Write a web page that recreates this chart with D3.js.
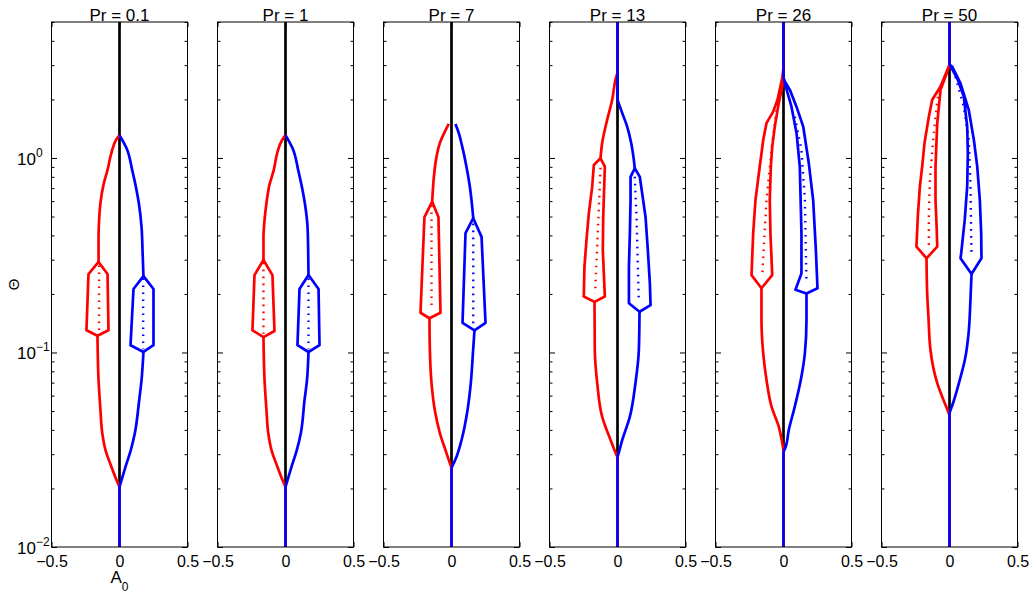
<!DOCTYPE html>
<html><head><meta charset="utf-8">
<script src="https://cdn.jsdelivr.net/npm/d3@7"></script>
<style>
body{margin:0;background:#fff}
svg{display:block}
text{font-family:"Liberation Sans",Arial,Helvetica,sans-serif;fill:#000}
</style>
</head><body>
<svg id="chart" width="1032" height="594"></svg>
<script>
// ---------------- DATA (A0, Theta) ----------------
const prLabels = ["Pr = 0.1", "Pr = 1", "Pr = 7", "Pr = 13", "Pr = 26", "Pr = 50"];
const xTicks = [-0.5, 0, 0.5];
const yMajor = [0.01, 0.1, 1];
const yMajorExp = ["\u22122", "\u22121", "0"];
const thetaDomain = [0.01, 5];

// Theta where the red/blue branches leave A0 = 0 (lower bifurcation)
const lowerMerge = [0.0204, 0.0204, 0.0255, 0.0291, 0.0315, 0.0477];
const lowerMergeBlue = [0.0204, 0.0204, 0.0255, 0.0291, 0.0309, 0.049];
// whether branches return to A0 = 0 at large Theta
const rejoins = [false, false, false, true, true, true];

// red branch: lower curve (merge -> bubble bottom), upper curve (bubble top -> end)
const redLower = [
  [[0,0.0204],[-0.022,0.0221],[-0.059,0.0258],[-0.103,0.0315],[-0.127,0.0386],[-0.140,0.0506],[-0.154,0.072],[-0.162,0.122]],
  [[0,0.0204],[-0.022,0.0221],[-0.059,0.0258],[-0.103,0.0315],[-0.127,0.0386],[-0.140,0.0506],[-0.154,0.072],[-0.162,0.120]],
  [[0,0.0255],[-0.037,0.0304],[-0.086,0.0386],[-0.123,0.0506],[-0.147,0.0697],[-0.159,0.103],[-0.162,0.150]],
  [[0,0.0291],[-0.012,0.0303],[-0.051,0.0355],[-0.113,0.0468],[-0.149,0.0695],[-0.167,0.103],[-0.169,0.182]],
  [[0,0.0315],[-0.010,0.0345],[-0.035,0.0416],[-0.088,0.0527],[-0.125,0.0722],[-0.149,0.099],[-0.162,0.147],[-0.162,0.214]],
  [[0,0.0477],[-0.025,0.0527],[-0.090,0.0695],[-0.140,0.103],[-0.155,0.153],[-0.164,0.2],[-0.169,0.305]]
];
const redUpper = [
  [[-0.154,0.292],[-0.154,0.393],[-0.150,0.48],[-0.140,0.587],[-0.118,0.727],[-0.088,0.868],[-0.060,1.06],[-0.025,1.24],[0,1.31]],
  [[-0.162,0.299],[-0.162,0.393],[-0.154,0.48],[-0.140,0.587],[-0.118,0.727],[-0.086,0.868],[-0.061,1.06],[-0.025,1.237],[0,1.31]],
  [[-0.142,0.596],[-0.137,0.685],[-0.127,0.834],[-0.110,1.016],[-0.086,1.19],[-0.049,1.365],[-0.020,1.496]],
  [[-0.125,0.996],[-0.113,1.19],[-0.076,1.57],[-0.039,1.99],[-0.015,2.52],[0,2.75]],
  [[-0.007,2.62],[0,2.95]],
  [[-0.002,3.0],[0,3.1]]
];
// red oscillation bubble edges (between bubble top and bubble bottom)
const redBubbleLeft = [
  [[-0.228,0.253],[-0.243,0.130]],
  [[-0.228,0.250],[-0.243,0.130]],
  [[-0.199,0.497],[-0.228,0.160]],
  [[-0.174,0.92],[-0.186,0.712],[-0.211,0.519],[-0.228,0.379],[-0.243,0.276],[-0.248,0.194]],
  [[-0.044,1.99],[-0.076,1.73],[-0.125,1.51],[-0.149,1.24],[-0.181,0.834],[-0.206,0.608],[-0.223,0.41],[-0.235,0.25]],
  [[-0.066,2.33],[-0.127,1.99],[-0.152,1.63],[-0.184,1.19],[-0.201,0.902],[-0.218,0.712],[-0.233,0.499],[-0.243,0.350]]
];
const redBubbleRight = [
  [[-0.088,0.253],[-0.081,0.130]],
  [[-0.096,0.250],[-0.081,0.129]],
  [[-0.096,0.497],[-0.081,0.160]],
  [[-0.093,0.902],[-0.105,0.499],[-0.108,0.336],[-0.093,0.194]],
  [[-0.007,2.37],[-0.035,1.91],[-0.064,1.45],[-0.083,1.143],[-0.093,0.903],[-0.101,0.608],[-0.096,0.41],[-0.083,0.25]],
  [[-0.029,2.62],[-0.066,2.24],[-0.090,1.51],[-0.103,0.902],[-0.103,0.608],[-0.095,0.45],[-0.090,0.350]]
];
const redMid = [
  [[-0.150,0.28],[-0.150,0.126]],
  [[-0.162,0.29],[-0.162,0.125]],
  [[-0.147,0.57],[-0.147,0.165]],
  [[-0.125,0.89],[-0.140,0.5],[-0.165,0.2]],
  [[-0.051,1.76],[-0.088,1.10],[-0.125,0.608],[-0.157,0.245]],
  [[-0.079,2.24],[-0.103,1.63],[-0.127,1.10],[-0.145,0.741],[-0.152,0.499],[-0.152,0.343]]
];

// blue branch
const blueLower = [
  [[0,0.0204],[0.015,0.0221],[0.044,0.0258],[0.083,0.0315],[0.113,0.0386],[0.145,0.057],[0.162,0.072],[0.176,0.1006]],
  [[0,0.0204],[0.015,0.0221],[0.044,0.0258],[0.083,0.0315],[0.113,0.0386],[0.140,0.057],[0.158,0.072],[0.169,0.1006]],
  [[0,0.0255],[0.037,0.0291],[0.074,0.0355],[0.118,0.0506],[0.142,0.0697],[0.159,0.103],[0.169,0.130]],
  [[0,0.0291],[0.008,0.0303],[0.035,0.0355],[0.091,0.0468],[0.132,0.0695],[0.157,0.103],[0.162,0.162]],
  [[0,0.0309],[0.015,0.0326],[0.039,0.040],[0.083,0.0527],[0.127,0.0722],[0.157,0.099],[0.169,0.147],[0.169,0.201]],
  [[0,0.049],[0.030,0.056],[0.075,0.072],[0.115,0.093],[0.140,0.125],[0.154,0.186],[0.162,0.253]]
];
const blueUpper = [
  [[0.176,0.247],[0.170,0.325],[0.162,0.442],[0.142,0.587],[0.125,0.685],[0.093,0.868],[0.057,1.10],[0,1.31]],
  [[0.169,0.250],[0.167,0.325],[0.162,0.442],[0.142,0.587],[0.125,0.685],[0.093,0.868],[0.057,1.10],[0,1.31]],
  [[0.160,0.490],[0.152,0.562],[0.135,0.711],[0.110,0.902],[0.079,1.143],[0.054,1.34],[0.029,1.496]],
  [[0.127,0.885],[0.120,0.977],[0.101,1.19],[0.071,1.45],[0.035,1.70],[0,1.99]],
  [[0.005,2.52],[0,2.6]],
  [[0.004,3.0],[0,3.05]]
];
const blueBubbleLeft = [
  [[0.103,0.212],[0.081,0.109]],
  [[0.103,0.212],[0.088,0.109]],
  [[0.103,0.411],[0.081,0.142]],
  [[0.096,0.80],[0.096,0.608],[0.091,0.41],[0.084,0.276],[0.084,0.179]],
  [[0.010,2.42],[0.059,1.83],[0.096,1.34],[0.120,0.90],[0.132,0.41],[0.132,0.255],[0.088,0.210]],
  [[0.061,2.52],[0.105,2.07],[0.130,1.45],[0.135,1.06],[0.130,0.712],[0.112,0.48],[0.086,0.324],[0.081,0.305]]
];
const blueBubbleRight = [
  [[0.250,0.212],[0.250,0.109]],
  [[0.243,0.212],[0.250,0.109]],
  [[0.221,0.393],[0.250,0.142]],
  [[0.164,0.80],[0.206,0.499],[0.223,0.336],[0.238,0.227],[0.243,0.175]],
  [[0.010,2.47],[0.047,2.24],[0.096,1.83],[0.145,1.45],[0.186,0.94],[0.218,0.608],[0.238,0.336],[0.25,0.214]],
  [[0.020,2.95],[0.081,2.42],[0.142,1.76],[0.179,1.24],[0.204,0.902],[0.223,0.608],[0.233,0.41],[0.235,0.305]]
];
const blueMid = [
  [[0.174,0.24],[0.174,0.104]],
  [[0.169,0.24],[0.169,0.104]],
  [[0.160,0.46],[0.160,0.14]],
  [[0.127,0.80],[0.140,0.5],[0.157,0.18]],
  [[0.083,1.63],[0.132,1.10],[0.157,0.608],[0.169,0.227]],
  [[0.044,2.62],[0.105,1.83],[0.142,1.24],[0.154,0.741],[0.159,0.41],[0.162,0.324]]
];

// ---------------- LAYOUT ----------------
const plotTop = 22, plotBottom = 547, plotW = 136, firstLeft = 50.5, step = 166.1;
const svg = d3.select("#chart");
const y = d3.scaleLog().domain(thetaDomain).range([plotBottom, plotTop]);
const x = d3.scaleLinear().domain([-0.5, 0.5]).range([0, plotW]);

const smoothLine = d3.line().x(d => x(d[0])).y(d => y(d[1])).curve(d3.curveMonotoneY);
const curve = pts => smoothLine(pts.slice().sort((a, b) => b[1] - a[1]));
const straight = d3.line().x(d => x(d[0])).y(d => y(d[1]));
const closed = d3.line().x(d => x(d[0])).y(d => y(d[1])).curve(d3.curveLinearClosed);

// minor tick values
const yMinor = [];
for (let e = -2; e <= 0; e++) for (let m = 2; m <= 9; m++) {
  const v = m * Math.pow(10, e);
  if (v <= thetaDomain[1] + 1e-9) yMinor.push(v);
}

const colors = {red: "#ff0000", blue: "#0000ff"};
const LW = 2.7;

prLabels.forEach((lab, i) => {
  const left = Math.round(firstLeft + i * step) + 0.5;
  const g = svg.append("g").attr("transform", `translate(${left},0)`);

  // axes ticks (inward)
  const axL = g.append("g").call(d3.axisLeft(y).tickValues(yMinor).tickSize(-3).tickFormat(""));
  const axL2 = g.append("g").call(d3.axisLeft(y).tickValues(yMajor).tickSize(-5.5).tickFormat(""));
  const axR = g.append("g").attr("transform", `translate(${plotW},0)`).call(d3.axisRight(y).tickValues(yMinor).tickSize(-3).tickFormat(""));
  const axR2 = g.append("g").attr("transform", `translate(${plotW},0)`).call(d3.axisRight(y).tickValues(yMajor).tickSize(-5.5).tickFormat(""));
  const axB = g.append("g").attr("transform", `translate(0,${plotBottom})`)
    .call(d3.axisBottom(x).tickValues(xTicks).tickSize(-5).tickPadding(9).tickFormat(d3.format("")));
  const axT = g.append("g").attr("transform", `translate(0,${plotTop})`)
    .call(d3.axisTop(x).tickValues(xTicks).tickSize(-5).tickFormat(""));
  [axL, axL2, axR, axR2, axB, axT].forEach(a => {
    a.select(".domain").remove();
    a.selectAll("line").attr("stroke", "#000").attr("stroke-width", 1);
  });
  axB.selectAll("text").attr("font-size", 16).attr("fill", "#000")
     .style("font-family", '"Liberation Sans", Arial, sans-serif');

  // zero (black) branch
  g.append("path").attr("d", straight([[0, lowerMerge[i]], [0, thetaDomain[1]]]))
    .attr("fill", "none").attr("stroke", "#000").attr("stroke-width", LW);

  const drawBranch = (col, lower, upper, bl, br, mid, mergeLow) => {
    const c = colors[col];
    const gg = g.append("g").attr("fill", "none").attr("stroke", c).attr("stroke-width", LW)
      .attr("stroke-linejoin", "round").attr("stroke-linecap", "butt");
    // stems along A0 = 0
    gg.append("path").attr("d", straight([[0, thetaDomain[0]], [0, mergeLow]]));
    if (rejoins[i]) gg.append("path").attr("d", straight([[0, upper[upper.length - 1][1]], [0, thetaDomain[1]]]));
    gg.append("path").attr("d", curve(lower));
    gg.append("path").attr("d", curve(upper));
    const apex = upper[0], bottom = lower[lower.length - 1];
    gg.append("path").attr("d", closed([apex, ...bl, bottom, ...br.slice().reverse()]));
    gg.append("path").attr("d", straight(mid))
      .attr("stroke-width", 2.4).attr("stroke-dasharray", "1.6,5.4");
  };
  drawBranch("red", redLower[i], redUpper[i], redBubbleLeft[i], redBubbleRight[i], redMid[i], lowerMerge[i]);
  drawBranch("blue", blueLower[i], blueUpper[i], blueBubbleLeft[i], blueBubbleRight[i], blueMid[i], lowerMergeBlue[i]);

  // box
  g.append("rect").attr("x", 0).attr("y", plotTop).attr("width", plotW).attr("height", plotBottom - plotTop)
    .attr("fill", "none").attr("stroke", "#000").attr("stroke-width", 1);

  // title
  g.append("text").attr("x", plotW / 2).attr("y", 21).attr("text-anchor", "middle")
    .attr("font-size", 17).text(lab);

  if (i === 0) {
    yMajor.forEach((v, k) => {
      const t = g.append("text").attr("x", 17 - left).attr("y", y(v) + 7).attr("font-size", 17);
      t.append("tspan").text("10");
      t.append("tspan").attr("dy", -8).attr("font-size", 12).text(yMajorExp[k]);
    });
    const xl = g.append("text").attr("x", x(0)).attr("y", 583).attr("text-anchor", "middle").attr("font-size", 17);
    xl.append("tspan").text("A");
    xl.append("tspan").attr("dy", 8).attr("font-size", 12).text("0");
    svg.append("text").attr("transform", `translate(13,${(plotTop + plotBottom) / 2}) rotate(-90)`)
      .attr("text-anchor", "middle").attr("dominant-baseline", "central").attr("font-size", 15).text("\u0398");
  }
});
</script>
</body></html>
